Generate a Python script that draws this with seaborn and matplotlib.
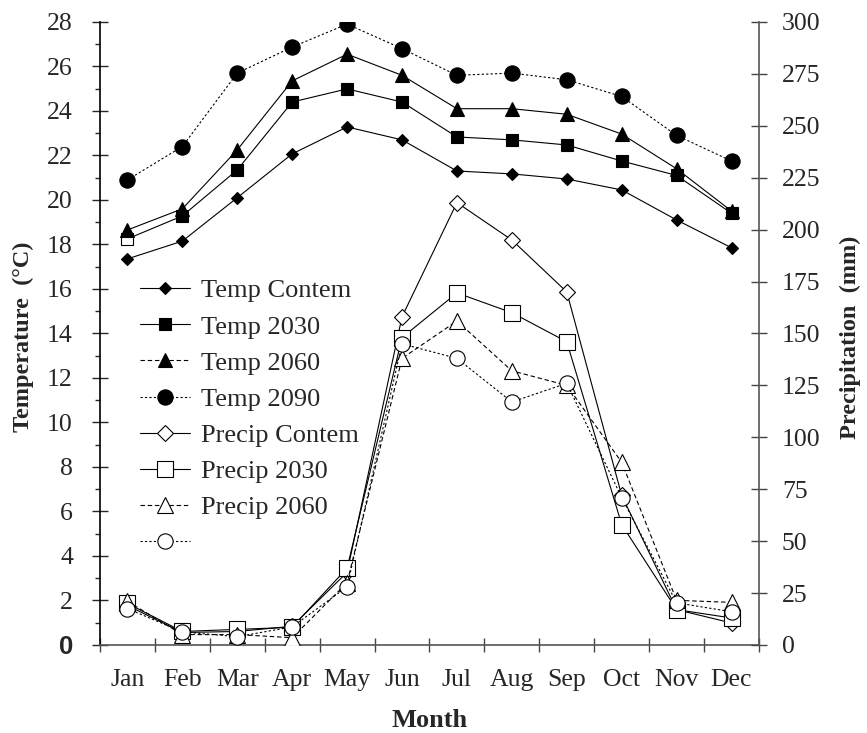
import numpy as np
import matplotlib
matplotlib.use('Agg')
import matplotlib.pyplot as plt
from matplotlib.lines import Line2D
from matplotlib.ticker import MultipleLocator
import seaborn as sns

# Data
months = ['Jan', 'Feb', 'Mar', 'Apr', 'May', 'Jun', 'Jul', 'Aug', 'Sep', 'Oct', 'Nov', 'Dec']
temp_contem = [17.35, 18.15, 20.1, 22.07, 23.28, 22.7, 21.3, 21.17, 20.94, 20.45, 19.1, 17.85]
temp_2030 = [18.25, 19.28, 21.35, 24.4, 24.99, 24.4, 22.83, 22.7, 22.47, 21.75, 21.1, 19.4]
temp_2060 = [18.65, 19.6, 22.25, 25.35, 26.55, 25.6, 24.1, 24.1, 23.85, 22.96, 21.4, 19.5]
temp_2090 = [20.9, 22.4, 25.7, 26.87, 27.9, 26.8, 25.6, 25.7, 25.4, 24.65, 22.9, 21.75]
precip_contem = [19, 6, 6.5, 9, 35, 158, 213, 195, 170, 72, 17, 10.6]
precip_2030 = [20, 6.5, 7.5, 8.5, 37, 148, 169.5, 160, 146, 58, 17, 13]
precip_2060 = [21, 5, 5, 3.5, 30, 138, 156, 132, 125, 88, 21.5, 20.5]
precip_2090 = [17.5, 6.3, 4, 8.7, 28, 145, 138, 117, 126, 71, 20.3, 16]
legend_labels = ['Temp Contem', 'Temp 2030', 'Temp 2060', 'Temp 2090',
                 'Precip Contem', 'Precip 2030', 'Precip 2060', ' ']

sns.set_style('ticks')
plt.rcParams['font.family'] = ['Liberation Serif', 'DejaVu Serif']

x = np.arange(len(months)) + 0.5
dotted = (0, (2, 2))
dashed = (0, (4, 2.5))

fig = plt.figure(figsize=(8.67, 7.33), dpi=100)
ax = fig.add_axes([0.1153, 0.1201, 0.7601, 0.85])
ax2 = ax.twinx()


def draw(axis, vals, marker, ms, face, ls='-', markevery=None):
    sns.lineplot(x=x, y=vals, ax=axis, color='black', linewidth=0.8, linestyle=ls,
                 marker=marker, markersize=ms, markerfacecolor=face,
                 markeredgecolor='black', markeredgewidth=0.8,
                 markevery=markevery, legend=False)


# temperature (left axis)
draw(ax, temp_contem, 'D', 6, 'black')
draw(ax, temp_2030, 's', 9, 'black', markevery=list(range(1, 12)))
# Jan marker of Temp 2030 is open in the original
sns.lineplot(x=x[:1], y=temp_2030[:1], ax=ax, color='black', marker='s', markersize=9,
             markerfacecolor='white', markeredgecolor='black', markeredgewidth=0.8, legend=False)
draw(ax, temp_2060, '^', 9.5, 'black')
draw(ax, temp_2090, 'o', 11, 'black', ls=dotted)

# precipitation (right axis)
draw(ax2, precip_contem, 'D', 8.5, 'white')
draw(ax2, precip_2030, 's', 11, 'white')
draw(ax2, precip_2060, '^', 11, 'white', ls=dashed)
draw(ax2, precip_2090, 'o', 11, 'white', ls=dotted)

# axes limits / ticks
ax.set_xlim(0, 12)
ax.set_ylim(0, 28)
ax2.set_ylim(0, 300)

ax.set_xticks(np.arange(0, 13))
ax.set_xticklabels([])
ax.set_xticks(x, labels=months, minor=True)
ax.tick_params(axis='x', which='major', direction='inout', length=10, width=1, color='#444444')
ax.tick_params(axis='x', which='minor', length=0, pad=17, labelsize=18.5)

yt = np.arange(0, 29, 2)
ax.set_yticks(yt)
ax.set_yticklabels([str(v) for v in yt])
ax.yaxis.set_minor_locator(MultipleLocator(1))
ax.tick_params(axis='y', which='major', direction='inout', length=11, width=1, pad=14, labelsize=18.5)
ax.tick_params(axis='y', which='minor', direction='out', length=3.6, width=1)
zero = ax.get_yticklabels()[0]
zero.set_fontfamily('Liberation Sans')
zero.set_fontweight('bold')

ax2.set_yticks(np.arange(0, 301, 25))
ax2.tick_params(axis='y', which='major', direction='inout', length=11, width=1, pad=11,
                labelsize=18.5, color='#444444')

for s in ['top', 'right']:
    ax.spines[s].set_visible(False)
for s in ['top', 'left', 'bottom']:
    ax2.spines[s].set_visible(False)
ax.spines['left'].set_color('black')
ax.spines['bottom'].set_color('#555555')
ax2.spines['right'].set_color('#555555')
for s in ['left', 'bottom']:
    ax.spines[s].set_linewidth(1.2)
ax2.spines['right'].set_linewidth(1.2)

# labels
ax.set_ylabel('Temperature  (°C)', fontsize=17.5, fontweight='bold')
ax.yaxis.set_label_coords(-0.100, 0.494)
ax2.set_ylabel('Precipitation  (mm)', fontsize=17.5, fontweight='bold', rotation=90)
ax2.yaxis.set_label_coords(1.123, 0.494)
ax.set_xlabel('Month', fontsize=19, fontweight='bold')
ax.xaxis.set_label_coords(0.5, -0.1027)


# legend
def handle(marker, ms, face, ls='-'):
    return Line2D([], [], color='black', linewidth=0.8, linestyle=ls, marker=marker,
                  markersize=ms, markerfacecolor=face, markeredgecolor='black', markeredgewidth=0.8)


handles = [handle('D', 6, 'black'), handle('s', 9, 'black'), handle('^', 9.5, 'black', dashed),
           handle('o', 11, 'black', dotted), handle('D', 8.5, 'white'), handle('s', 11, 'white'),
           handle('^', 11, 'white', dashed), handle('o', 11, 'white', dotted)]
ax2.legend(handles, legend_labels, loc='upper left', bbox_to_anchor=(0.0607, 0.5875),
           frameon=False, fontsize=19, handlelength=1.9, handletextpad=0.4,
           labelspacing=0.48, borderaxespad=0, borderpad=0)

fig.savefig('out.png', dpi=100)
